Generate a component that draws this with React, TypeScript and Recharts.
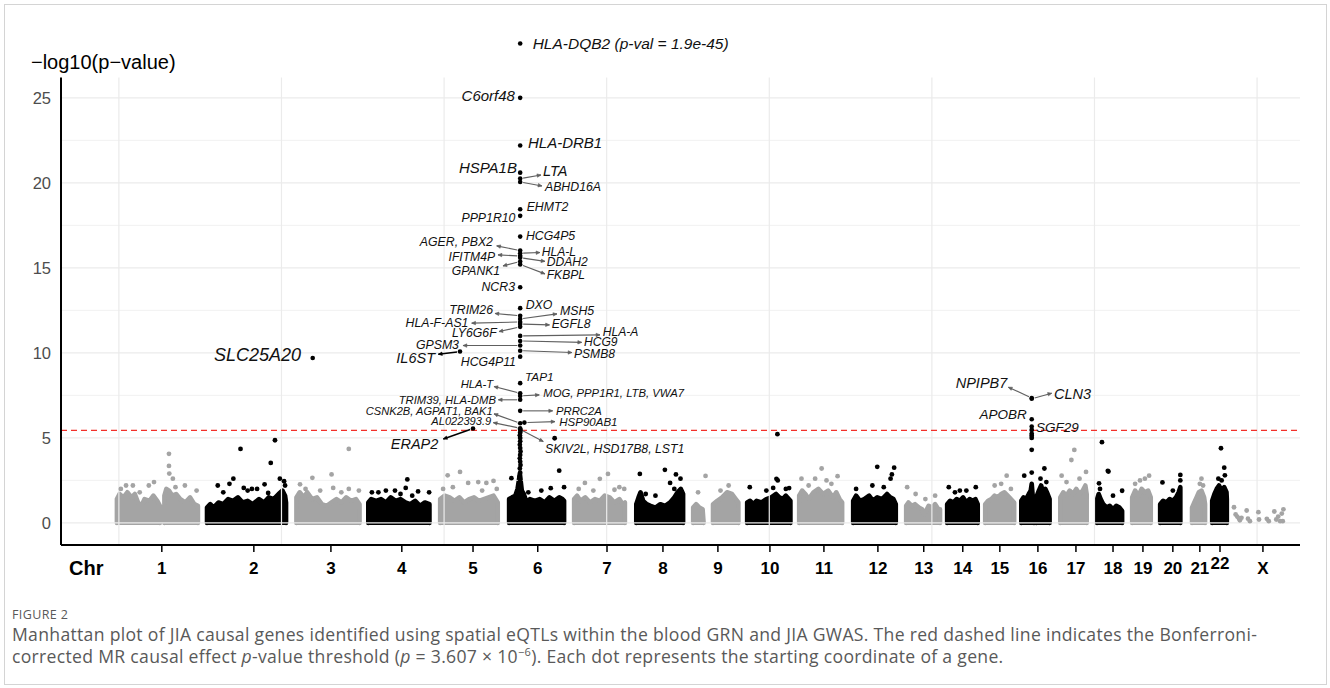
import React from "react";
import { Area, ComposedChart, ReferenceLine, Scatter, XAxis, YAxis } from "recharts";

// chromosome layout along the genome axis (cumulative Mb)
const chrNames = ["1", "2", "3", "4", "5", "6", "7", "8", "9", "10", "11", "12", "13", "14", "15", "16", "17", "18", "19", "20", "21", "22", "X"];
const chrStart = [-6, 271, 544, 766, 987, 1199, 1399, 1590, 1765, 1931, 2091, 2257, 2420, 2546, 2663, 2774, 2894, 3007, 3115, 3201, 3299, 3361, 3426];
const chrCentre = [132, 415, 652, 870, 1089, 1288, 1501, 1673, 1842, 2002, 2168, 2334, 2475, 2595, 2709, 2826, 2943, 3057, 3149, 3241, 3324, 3386, 3518];

// upper edge of the dense cloud of genes in each chromosome: [pos Mb, -log10 p]
const chrCore = [
  [[0, 0], [0, 1.4], [8, 1.7], [20, 1.5], [32, 1.8], [45, 1.5], [55, 1.7], [65, 1.2], [75, 1.0], [85, 1.4], [100, 1.3], [112, 1.6], [124, 1.3], [132, 1.0], [132, 0], [139, null], [146, 0], [146, 1.6], [152, 2.0], [160, 1.9], [170, 1.6], [182, 1.7], [195, 1.4], [210, 1.2], [225, 1.5], [238, 1.1], [249, 1.0], [249, 0]],
  [[0, 0], [0, 0.9], [10, 1.1], [20, 0.9], [35, 1.2], [50, 1.1], [65, 1.4], [80, 1.3], [95, 1.5], [110, 1.2], [125, 1.3], [140, 1.1], [160, 1.4], [175, 1.2], [190, 1.5], [205, 1.4], [220, 1.7], [232, 1.9], [240, 1.6], [243, 1.2], [243, 0]],
  [[2, 0], [2, 1.5], [12, 1.8], [25, 1.5], [35, 1.8], [50, 1.4], [65, 1.5], [80, 1.1], [95, 1.0], [110, 1.2], [125, 1.4], [140, 1.2], [155, 1.5], [170, 1.3], [185, 1.4], [196, 1.1], [196, 0]],
  [[1, 0], [1, 1.2], [10, 1.4], [25, 1.3], [40, 1.4], [55, 1.2], [70, 1.5], [85, 1.3], [100, 1.4], [115, 1.2], [130, 1.1], [145, 1.3], [160, 1.0], [175, 1.2], [189, 1.1], [189, 0]],
  [[1, 0], [1, 1.4], [15, 1.6], [30, 1.5], [45, 1.3], [60, 1.5], [75, 1.2], [90, 1.4], [105, 1.5], [120, 1.3], [135, 1.4], [150, 1.5], [165, 1.6], [178, 1.2], [178, 0]],
  [[1, 0], [1, 1.4], [10, 1.5], [20, 1.6], [27, 2.0], [31, 2.5], [34, 2.9], [37, 2.4], [40, 1.9], [46, 1.7], [55, 1.2], [65, 1.4], [80, 1.3], [95, 1.4], [110, 1.2], [125, 1.5], [140, 1.3], [155, 1.5], [165, 1.4], [170, 1.3], [170, 0]],
  [[1, 0], [1, 1.4], [10, 1.6], [20, 1.3], [35, 1.5], [50, 1.2], [65, 1.4], [80, 1.3], [95, 1.6], [110, 1.5], [125, 1.2], [140, 1.4], [150, 1.1], [157, 1.2], [157, 0]],
  [[1, 0], [1, 1.1], [8, 1.5], [14, 1.8], [22, 1.3], [33, 1.1], [45, 1.0], [60, 0.9], [75, 1.1], [90, 1.0], [105, 1.2], [118, 1.5], [128, 1.8], [138, 2.0], [145, 1.7], [145, 0]],
  [[1, 0], [1, 0.9], [10, 1.1], [20, 0.9], [30, 0.8], [33, 0], [48, null], [62, 0], [62, 1.1], [75, 1.3], [90, 1.5], [105, 1.8], [120, 1.7], [132, 1.4], [140, 1.2], [140, 0]],
  [[1, 0], [1, 1.2], [10, 1.3], [20, 1.1], [30, 1.3], [45, 1.2], [60, 1.4], [75, 1.5], [90, 1.7], [100, 1.5], [110, 1.4], [120, 1.6], [134, 1.3], [134, 0]],
  [[1, 0], [1, 1.6], [10, 1.9], [20, 1.7], [30, 1.4], [45, 1.8], [60, 2.0], [75, 1.7], [90, 1.9], [105, 1.5], [115, 1.8], [125, 1.4], [133, 1.2], [133, 0]],
  [[1, 0], [1, 1.3], [10, 1.6], [22, 1.3], [35, 1.4], [50, 1.6], [62, 1.3], [75, 1.5], [90, 1.4], [105, 1.7], [115, 1.5], [125, 1.4], [132, 1.1], [132, 0]],
  [[1, 0], [1, 1.0], [8, 1.2], [18, 1.0], [28, 1.1], [40, 0.9], [50, 0.8], [55, 0.5], [62, 0.7], [70, 1.0], [80, 0.9], [90, 1.1], [100, 0.8], [105, 0.8], [105, 0]],
  [[1, 0], [1, 1.1], [10, 1.3], [20, 1.2], [30, 1.4], [40, 1.3], [50, 1.5], [60, 1.2], [70, 1.4], [80, 1.3], [88, 1.4], [95, 1.1], [95, 0]],
  [[1, 0], [1, 1.1], [10, 1.3], [20, 1.4], [30, 1.6], [40, 1.5], [50, 1.7], [60, 1.8], [70, 1.6], [80, 1.4], [90, 1.2], [90, 0]],
  [[1, 0], [1, 1.3], [8, 1.5], [16, 1.4], [24, 1.7], [30, 1.9], [33, 2.3], [36, 1.6], [39, 1.3], [40, 0], [43, null], [47, 0], [47, 1.5], [55, 1.9], [62, 2.2], [68, 1.8], [75, 2.0], [82, 1.7], [88, 1.4], [88, 0]],
  [[1, 0], [1, 1.5], [10, 1.8], [20, 1.6], [30, 1.9], [40, 1.7], [50, 2.0], [60, 1.7], [70, 1.9], [78, 2.2], [82, 1.7], [82, 0]],
  [[1, 0], [1, 1.4], [6, 1.7], [12, 1.4], [20, 1.1], [30, 0.9], [40, 1.0], [50, 0.8], [60, 1.0], [70, 0.9], [78, 0.7], [78, 0]],
  [[1, 0], [1, 1.5], [10, 1.9], [20, 1.6], [30, 2.0], [40, 1.8], [50, 1.9], [58, 1.5], [58, 0]],
  [[1, 0], [1, 1.1], [10, 1.3], [20, 1.2], [30, 1.4], [40, 1.3], [50, 1.5], [58, 1.8], [63, 2.1], [63, 0]],
  [[1, 0], [1, 0.9], [8, 1.2], [15, 1.5], [22, 1.8], [30, 1.9], [38, 1.5], [41, 1.1], [41, 0]],
  [[1, 0], [1, 1.3], [8, 1.7], [15, 2.0], [22, 2.2], [30, 1.9], [38, 2.1], [45, 1.8], [46, 1.4], [46, 0]],
  [],
];

// single genes standing out above the cloud: [pos Mb, -log10 p]
const chrSpread = [
  [[160, 4.06], [160, 3.35], [161, 2.9], [172, 2.6], [114, 2.4], [98, 2.2], [28, 2.2], [49, 2.2], [209, 2.2], [245, 1.9], [12, 2.0], [70, 1.8], [180, 2.1]],
  [[103, 4.35], [209, 4.86], [196, 3.53], [81, 2.6], [69, 2.3], [33, 2.2], [113, 2.06], [138, 2.0], [154, 2.0], [177, 2.27], [224, 2.6], [237, 2.45], [188, 1.76], [50, 1.8], [125, 1.9], [240, 2.2]],
  [[163, 4.35], [110, 2.85], [51, 2.65], [163, 2.0], [194, 1.9], [13, 2.27], [115, 2.06], [30, 2.0], [75, 1.9], [140, 1.8]],
  [[121, 2.56], [116, 2.06], [83, 1.9], [55, 1.9], [32, 1.8], [12, 1.8], [154, 1.85], [188, 1.8], [136, 1.6], [100, 1.7]],
  [[24, 2.8], [62, 3.0], [87, 2.35], [118, 2.4], [143, 2.35], [165, 2.47], [10, 2.0], [40, 2.1], [130, 1.9], [175, 2.0]],
  [[141, 4.98], [155, 3.07], [8, 2.63], [129, 2.04], [170, 2.1], [100, 1.9], [60, 1.8],
    [34, 2.2], [35, 2.45], [33, 2.7], [35, 2.95], [34, 3.2], [36, 3.4], [35, 3.6], [34, 3.8], [35, 4.0], [36, 4.2], [35, 4.4], [34, 4.6], [35, 4.8], [35, 5.0], [34, 5.15], [35, 5.3], [36, 5.42]],
  [[105, 2.88], [80, 2.59], [34, 2.35], [155, 2.0], [15, 2.0], [60, 1.9], [125, 1.95], [140, 2.1]],
  [[12, 2.88], [89, 3.12], [123, 2.85], [137, 2.6], [105, 2.35], [118, 2.0], [30, 1.7], [60, 1.6]],
  [[39, 2.76], [16, 1.8], [110, 2.2], [85, 1.9]],
  [[94, 5.22], [91, 2.59], [95, 2.5], [81, 2.06], [9, 2.1], [60, 1.9], [120, 2.0], [130, 2.05]],
  [[70, 3.2], [119, 2.75], [8, 2.6], [50, 2.6], [85, 2.5], [30, 2.2], [100, 2.3]],
  [[127, 3.25], [75, 3.3], [116, 2.6], [120, 2.85], [60, 2.2], [10, 2.0], [95, 2.1]],
  [[4, 2.1], [30, 1.7], [90, 1.6], [60, 1.4]],
  [[6, 2.1], [89, 2.1], [40, 1.9], [60, 1.9], [25, 1.8]],
  [[67, 2.78], [50, 2.3], [30, 2.2], [80, 2.0]],
  [[33, 5.47], [33, 5.24], [33, 5.12], [33, 5.0], [33, 4.3], [33, 2.96], [10, 2.78], [72, 3.2], [60, 2.6], [78, 2.4]],
  [[44, 4.29], [35, 3.7], [80, 3.0], [5, 2.78], [60, 2.6], [20, 2.4]],
  [[16, 4.75], [36, 3.02], [34, 3.06], [7, 2.33], [78, 1.89], [10, 2.0], [50, 1.6]],
  [[53, 2.78], [40, 2.6], [10, 2.3], [25, 2.5]],
  [[63, 2.82], [8, 2.38], [63, 2.5], [40, 1.9]],
  [[30, 2.6], [25, 2.3], [35, 2.2]],
  [[28, 4.39], [38, 3.25], [40, 2.8], [20, 2.6], [30, 2.5]],
  [[3, 0.92], [8, 0.5], [13, 0.37], [18, 0.27], [21, 0.15], [26, 0.3], [42, 0.73], [46, 0.25], [52, 0.1], [78, 0.63], [80, 0.2], [104, 0.24], [110, 0.1], [127, 0.67], [133, 0.2], [139, 0.37], [145, 0.1], [150, 0.55], [155, 0.8], [153, 0.1]],
];

// named causal genes: [gene, chromosome, pos Mb, -log10 p as plotted]
const hits: [string, string, number, number][] = [
  ["HLA-DQB2", "6", 35, 28.2],
  ["C6orf48", "6", 35, 25.0],
  ["HLA-DRB1", "6", 35, 22.2],
  ["HSPA1B", "6", 35, 20.6],
  ["LTA", "6", 35, 20.25],
  ["ABHD16A", "6", 35, 20.05],
  ["EHMT2", "6", 35, 18.45],
  ["PPP1R10", "6", 35, 18.06],
  ["HCG4P5", "6", 35, 16.84],
  ["AGER, PBX2", "6", 35, 16.02],
  ["HLA-L", "6", 35, 15.86],
  ["IFITM4P", "6", 35, 15.7],
  ["DDAH2", "6", 35, 15.6],
  ["GPANK1", "6", 35, 15.37],
  ["FKBPL", "6", 35, 15.2],
  ["NCR3", "6", 35, 13.86],
  ["DXO", "6", 35, 12.63],
  ["TRIM26", "6", 35, 12.18],
  ["MSH5", "6", 35, 12.0],
  ["HLA-F-AS1", "6", 35, 11.82],
  ["EGFL8", "6", 35, 11.7],
  ["LY6G6F", "6", 35, 11.53],
  ["HLA-A", "6", 35, 11.0],
  ["HCG9", "6", 35, 10.7],
  ["GPSM3", "6", 35, 10.43],
  ["PSMB8", "6", 35, 10.13],
  ["HCG4P11", "6", 35, 9.78],
  ["TAP1", "6", 35, 8.22],
  ["HLA-T", "6", 35, 7.63],
  ["MOG, PPP1R1, LTB, VWA7", "6", 35, 7.47],
  ["TRIM39, HLA-DMB", "6", 35, 7.24],
  ["PRRC2A", "6", 35, 6.59],
  ["HSP90AB1", "6", 48, 5.9],
  ["CSNK2B, AGPAT1, BAK1", "6", 35, 5.86],
  ["AL022393.9", "6", 35, 5.57],
  ["SKIV2L, HSD17B8, LST1", "6", 35, 5.5],
  ["IL6ST", "5", 62, 10.08],
  ["ERAP2", "5", 102, 5.55],
  ["SLC25A20", "3", 52, 9.7],
  ["NPIPB7", "16", 33, 7.35],
  ["CLN3", "16", 33, 7.3],
  ["APOBR", "16", 33, 6.1],
  ["SGF29", "16", 33, 5.67],
];
const topHitNote = " (p-val = 1.9e-45)";
const threshold = -Math.log10(3.607e-6);

// label placement, px from the dot: [dx, dy, anchor, font size, arrow tip dx, arrow tip dy, arrow colour]
const labelAt: Record<string, any[]> = {
  "HLA-DQB2": [12.5, 0, "start", 15.5],
  "C6orf48": [-5.2, -2, "end", 15],
  "HLA-DRB1": [7.8, -2.6, "start", 15],
  "HSPA1B": [-3.2, -4.8, "end", 15],
  "LTA": [22.8, -7.7, "start", 14.5, 20.8, -3.7],
  "ABHD16A": [24.8, 4.9, "start", 12.3, 21.8, 3.9],
  "EHMT2": [6.5, -2.6, "start", 12.3],
  "PPP1R10": [-4.7, 2, "end", 12.3],
  "HCG4P5": [5.8, -0.7, "start", 12.3],
  "AGER, PBX2": [-27.2, -9, "end", 12.3, -23.5, -4.7],
  "HLA-L": [21.5, -1.2, "start", 12.1, 19.8, -0.7],
  "IFITM4P": [-25.2, 0.6, "end", 12.1, -22.2, -1.1],
  "DDAH2": [26.5, 4.2, "start", 12.1, 24.8, 3.7],
  "GPANK1": [-20.2, 9.6, "end", 12.1, -17.2, 4.3],
  "FKBPL": [26.5, 10.2, "start", 12.1, 24.8, 9.4],
  "NCR3": [-5.2, 0, "end", 12.3],
  "DXO": [5.5, -3.3, "start", 12.3],
  "TRIM26": [-27.2, -5.9, "end", 12.3, -25.2, -2.4],
  "MSH5": [39.8, -8, "start", 12.3, 36.8, -5],
  "HLA-F-AS1": [-51.7, 1.2, "end", 12.3, -48.5, 1.2],
  "EGFL8": [31.5, 0.2, "start", 12.3, 29.3, 0.9],
  "LY6G6F": [-23.5, 6.3, "end", 12.3, -21.2, 4.7],
  "HLA-A": [82.5, -3.6, "start", 12.1, 79.8, -1],
  "HCG9": [63.8, 1.2, "start", 12.1, 61.5, 1.4],
  "GPSM3": [-61.2, -0.7, "end", 12.3, -57.2, 0],
  "PSMB8": [53.8, 3.6, "start", 12.1, 51.8, 1.9],
  "HCG4P11": [-4.2, 5, "end", 12.3],
  "TAP1": [4.8, -6.6, "start", 11.8],
  "HLA-T": [-26.9, -9.3, "end", 11.3, -26.2, -6.6],
  "MOG, PPP1R1, LTB, VWA7": [23.1, -2.7, "start", 11.3, 19.1, -1],
  "TRIM39, HLA-DMB": [-24.2, 0, "end", 11.3, -21.9, 0],
  "PRRC2A": [35.8, 0, "start", 11.3, 32.5, 0],
  "HSP90AB1": [34.9, -1, "start", 11.5, 30.6, -1],
  "CSNK2B, AGPAT1, BAK1": [-27.5, -12, "end", 11.1, -26.2, -9.4],
  "AL022393.9": [-29, -6.9, "end", 11.1, -26.9, -5.6],
  "SKIV2L, HSD17B8, LST1": [24.8, 19.5, "start", 12.3, 23.1, 12.2],
  "IL6ST": [-25, 6.7, "end", 14.5, -21.7, 2.7, "#000"],
  "ERAP2": [-34.7, 15.6, "end", 14.5, -29.7, 10.4, "#000"],
  "SLC25A20": [-11.7, -3.1, "end", 18],
  "NPIPB7": [-24.4, -14.75, "end", 14.5, -23.4, -10.75],
  "CLN3": [22.3, -4.6, "start", 14.5, 20, -5.6],
  "APOBR": [-5, -4.3, "end", 13.5],
  "SGF29": [4.3, 0.7, "start", 13.5],
};

const GREY = "#a4a4a4";
const INK = "#000";
const SANS = '"Liberation Sans", Arial, Helvetica, sans-serif';
const colourOf = (i: number) => (i % 2 === 0 ? GREY : INK);

const coreData = chrCore.map((pts, i) => pts.map((p) => ({ x: chrStart[i] + p[0], y: p[1] })));
const spreadData = chrSpread.map((pts, i) => pts.map((p) => ({ x: chrStart[i] + p[0], y: p[1] })));
const hitData = hits.map(([gene, chr, pos, logp]) => ({ gene, x: chrStart[chrNames.indexOf(chr)] + pos, y: logp }));

const yMajor = [0, 5, 10, 15, 20, 25];
const yMinor = [2.5, 7.5, 12.5, 17.5, 22.5];
const xGrid = [0, 500, 1000, 1500, 2000, 2500, 3000, 3500];
const X_DOMAIN = [-178, 3632];
const Y_DOMAIN = [-1.3, 29.58];
const PANEL_TOP = 26.2;

function Arrow({ x1, y1, x2, y2, colour }: any) {
  const a = Math.atan2(y2 - y1, x2 - x1);
  const sx = x1 + Math.cos(a) * 3;
  const sy = y1 + Math.sin(a) * 3;
  const h = 4.2;
  const w = 0.42;
  const p1 = [x2 - h * Math.cos(a - w), y2 - h * Math.sin(a - w)];
  const p2 = [x2 - h * Math.cos(a + w), y2 - h * Math.sin(a + w)];
  return (
    <g>
      <line x1={sx} y1={sy} x2={x2} y2={y2} stroke={colour} strokeWidth={colour === INK ? 1.5 : 1.1} />
      <polygon points={`${p1} ${x2},${y2} ${p2}`} fill={colour} stroke={colour} strokeWidth={0.6} />
    </g>
  );
}

function GeneMark(props: any) {
  const { cx, cy, payload } = props;
  const [dx, dy, anchor, size, ax, ay, col] = labelAt[payload.gene];
  const text = payload.gene === "HLA-DQB2" ? payload.gene + topHitNote : payload.gene;
  return (
    <g>
      <circle cx={cx} cy={cy} r={2.3} fill={INK} />
      {ax !== undefined && <Arrow x1={cx} y1={cy} x2={cx + ax} y2={cy + ay} colour={col || "#606060"} />}
      <text x={cx + dx} y={cy + dy} textAnchor={anchor} dominantBaseline="central" fontStyle="italic" fontSize={size} fontFamily={SANS} fill="#111">
        {text}
      </text>
    </g>
  );
}

function ChrTick(props: any) {
  const { x, y, payload } = props;
  const label = chrNames[chrCentre.indexOf(payload.value)];
  return (
    <text x={x} y={y} dy={label === "22" ? 15 : 20} textAnchor="middle" fontWeight="bold" fontSize={17} fontFamily={SANS} fill="#000">
      {label}
    </text>
  );
}

export default function App() {
  return (
    <div style={{ position: "absolute", left: 0, top: 0, width: 1330, height: 688, background: "#fff", fontFamily: SANS }}>
      <div style={{ position: "absolute", left: 4, top: 4, width: 1321, height: 679, border: "1px solid #d4d4d4" }} />
      <div style={{ position: "absolute", left: 0, top: 0 }}>
        <ComposedChart width={1330} height={600} margin={{ top: 20, right: 30, bottom: 15, left: 0 }}>
          <XAxis
            type="number"
            dataKey="x"
            domain={X_DOMAIN}
            ticks={chrCentre}
            interval={0}
            tick={(p: any) => <ChrTick {...p} />}
            tickSize={7}
            tickMargin={2}
            height={40}
            axisLine={{ stroke: "#000", strokeWidth: 2 }}
            tickLine={{ stroke: "#000", strokeWidth: 1.5 }}
          />
          <YAxis
            type="number"
            dataKey="y"
            domain={Y_DOMAIN}
            ticks={yMajor}
            interval={0}
            width={61}
            axisLine={false}
            tickLine={false}
            tickMargin={4}
            tick={{ fontSize: 16.5, fill: "#4d4d4d", fontFamily: SANS }}
          />
          {yMinor.map((v) => (
            <ReferenceLine key={"ym" + v} y={v} stroke="#ededed" strokeWidth={0.8} />
          ))}
          {yMajor.map((v) => (
            <ReferenceLine key={"yM" + v} y={v} stroke="#ebebeb" strokeWidth={1.4} />
          ))}
          {xGrid.map((v) => (
            <ReferenceLine key={"xg" + v} segment={[{ x: v, y: Y_DOMAIN[0] }, { x: v, y: PANEL_TOP }]} stroke="#ebebeb" strokeWidth={1.2} />
          ))}
          {coreData.map((d, i) =>
            d.length ? (
              <Area
                key={"core" + i}
                data={d}
                dataKey="y"
                type="linear"
                baseValue={-0.12}
                stroke={colourOf(i)}
                strokeWidth={4.6}
                strokeLinejoin="round"
                strokeLinecap="round"
                fill={colourOf(i)}
                fillOpacity={1}
                dot={false}
                activeDot={false}
                connectNulls={false}
                isAnimationActive={false}
              />
            ) : null
          )}
          {spreadData.map((d, i) => (
            <Scatter
              key={"spread" + i}
              data={d}
              isAnimationActive={false}
              shape={(p: any) => <circle cx={p.cx} cy={p.cy} r={2.4} fill={colourOf(i)} />}
            />
          ))}
          <ReferenceLine y={threshold} stroke="#f2312b" strokeWidth={1.2} strokeDasharray="6 4" />
          <ReferenceLine segment={[{ x: X_DOMAIN[0], y: Y_DOMAIN[0] }, { x: X_DOMAIN[0], y: PANEL_TOP }]} stroke="#000" strokeWidth={2} />
          <Scatter data={hitData} isAnimationActive={false} shape={(p: any) => <GeneMark {...p} />} />
        </ComposedChart>
      </div>
      <div style={{ position: "absolute", left: 31, top: 52, fontSize: 20, lineHeight: "20px", color: "#000", whiteSpace: "nowrap" }}>
        −log10(p−value)
      </div>
      <div style={{ position: "absolute", left: 69, top: 558, fontSize: 20, lineHeight: "20px", fontWeight: "bold", color: "#000" }}>Chr</div>
      <div style={{ position: "absolute", left: 12, top: 607, fontFamily: '"Open Sans", sans-serif', color: "#595959", whiteSpace: "nowrap" }}>
        <div style={{ fontSize: 12.5, lineHeight: "16px", letterSpacing: 0.4 }}>FIGURE 2</div>
        <div style={{ fontSize: 17.6, lineHeight: "22px", letterSpacing: 0.3 }}>
          Manhattan plot of JIA causal genes identified using spatial eQTLs within the blood GRN and JIA GWAS. The red dashed line indicates the Bonferroni-
          <br />
          corrected MR causal effect <i>p</i>-value threshold (<i>p</i> = 3.607 × 10<sup style={{ fontSize: 11, lineHeight: 0 }}>−6</sup>). Each dot represents the starting coordinate of a gene.
        </div>
      </div>
    </div>
  );
}
